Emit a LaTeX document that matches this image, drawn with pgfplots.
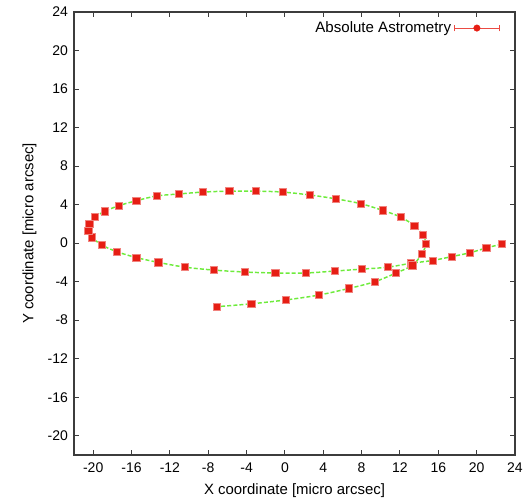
\documentclass[border=0pt]{standalone}
\usepackage{pgfplots}
\pgfplotsset{compat=1.18}
\usepackage{pgfplotstable}
\usepackage{fontspec}
\setmainfont{Liberation Sans}

\definecolor{ptred}{RGB}{230,30,20}
\definecolor{fitgreen}{RGB}{110,235,60}
\definecolor{framegray}{RGB}{60,60,60}

% Simulated astrometric track: x, y in micro arcsec
\pgfplotstableread{
x y
22.6 -0.1
21.0 -0.5
19.3 -1.0
17.4 -1.4
15.4 -1.8
13.1 -2.1
10.7 -2.5
8.0 -2.7
5.2 -2.9
2.2 -3.1
-1.0 -3.1
-4.2 -3.0
-7.4 -2.8
-10.4 -2.5
-13.2 -2.0
-15.5 -1.5
-17.5 -0.9
-19.1 -0.2
-20.1 0.6
-20.5 1.3
-20.4 2.0
-19.8 2.7
-18.8 3.3
-17.3 3.9
-15.5 4.4
-13.4 4.9
-11.1 5.1
-8.6 5.3
-5.8 5.4
-3.0 5.4
-0.2 5.3
2.6 5.0
5.3 4.6
7.9 4.1
10.2 3.4
12.1 2.7
13.5 1.8
14.4 0.9
14.7 -0.1
14.3 -1.1
13.3 -2.3
11.6 -3.1
9.4 -4.0
6.7 -4.7
3.5 -5.4
0.1 -5.9
-3.5 -6.3
-7.1 -6.6
}\track

\begin{document}
\begin{tikzpicture}
\begin{axis}[
  name=ax,
  scale only axis,
  width=330.75pt, height=332.25pt,
  xmin=-22, xmax=24, ymin=-22, ymax=24,
  xtick={-20,-16,...,24}, ytick={-20,-16,...,24},
  tick align=inside,
  major tick length=4pt,
  axis line style={framegray, line width=0.9pt},
  every tick/.style={framegray, line width=0.7pt},
  tick label style={font=\fontsize{10.5}{12}\selectfont},
  xticklabel style={yshift=-2pt},
  yticklabel style={xshift=-1pt},
  /pgf/number format/assume math mode=true,
  xlabel={X coordinate [micro arcsec]},
  ylabel={Y coordinate [micro arcsec]},
  label style={font=\fontsize{11.2}{13}\selectfont},
  xlabel style={yshift=-2pt},
  ylabel style={yshift=1.5pt},
  legend plot pos=right,
  legend style={draw=none, fill=none, at={(1,1)}, anchor=north east,
    xshift=-8pt, yshift=-3pt, font=\fontsize{11.3}{13}\selectfont},
  legend cell align=right,
]
% fitted track
\addplot[fitgreen, line width=1.1pt, dash pattern=on 3pt off 1.6pt, smooth, forget plot]
  table[x=x, y=y] {\track};
% measured positions
\addplot[only marks, mark=square*, mark size=2.7pt,
  mark options={fill=ptred, draw=ptred!55!white, line width=0.5pt},
  legend image code/.code={
    \draw[ptred!80!white, line width=0.6pt] (0cm,0cm) -- (1.2cm,0cm);
    \draw[ptred!80!white, line width=0.6pt] (0cm,-2.4pt) -- (0cm,2.4pt);
    \draw[ptred!80!white, line width=0.6pt] (1.2cm,-2.4pt) -- (1.2cm,2.4pt);
    \fill[ptred] (0.6cm,0cm) circle (2.4pt);
  }]
  table[x=x, y=y] {\track};
\addlegendentry{Absolute Astrometry}
\end{axis}
\pgfresetboundingbox
\path ([shift={(-55.5pt,-36pt)}]ax.south west) rectangle ([shift={(6.75pt,9pt)}]ax.north east);
\end{tikzpicture}
\end{document}
